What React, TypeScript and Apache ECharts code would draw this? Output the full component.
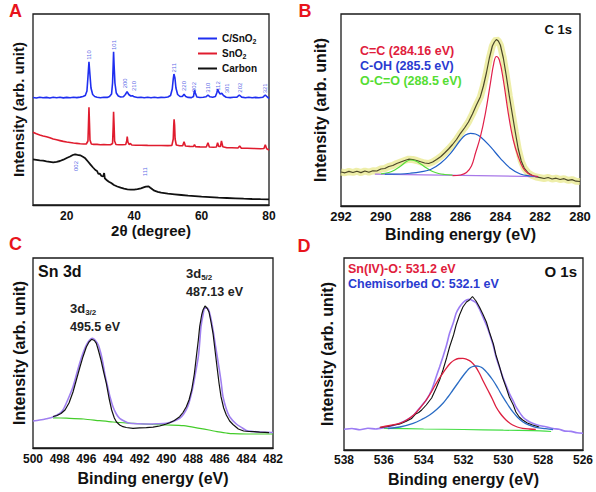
import React, { useEffect, useRef } from 'react';
import * as echarts from 'echarts';

const FONT = '"Liberation Sans", Arial, Helvetica, sans-serif';

// ---------- Panel A : XRD ----------
const xrdNames = ['C/SnO2', 'SnO2', 'Carbon'];
const xrdCSnO2: number[][] = [
  [10,107.5],[11,107],[12,107.8],[13,107.2],[14,107.6],[15,107],[16,107.7],[17,107.3],[18,107.8],[19,107.1],[20,107.6],[21,107.2],[22,107.8],[23,107.4],[24,107.9],[24.8,108.5],[25.5,109.5],[26,114],[26.3,128],[26.6,143.3],[26.9,130],[27.2,117],[27.7,110.5],[28.3,108.5],[29,107.8],[30,107.3],[31,107.8],[32,107.6],[32.7,108.5],[33.3,111],[33.6,122],[33.78,140],[33.9,153.3],[34.05,140],[34.3,122],[34.7,112],[35.3,109],[36,108],[36.8,108.2],[37.4,110.5],[37.9,113.3],[38.4,110.5],[39,109],[39.5,109.3],[40,108.2],[41,107.5],[42,107.8],[43,107.2],[44,107.7],[45,107.3],[46,107.8],[47,107.2],[48,107.6],[49,107.5],[50,108],[50.8,109.5],[51.3,116],[51.6,126],[51.8,131],[52.1,127],[52.4,117],[52.9,110.5],[53.6,108.5],[54.3,108.5],[54.8,110.7],[55.3,108.5],[56,107.6],[57,107.4],[57.6,108.5],[57.8,112.5],[57.95,114.7],[58.15,112],[58.6,108],[59.5,107.5],[60.5,107.7],[61.3,108.2],[61.9,110],[62.5,108.2],[63.3,107.8],[64.1,108.5],[64.5,112],[64.8,115.7],[65.1,113],[65.5,111],[66,111.7],[66.5,109.5],[67.3,107.8],[68.5,107.4],[69.5,107.7],[70.5,107.8],[71.2,110],[71.9,107.9],[73,107.3],[74,107.7],[75,107.2],[76,107.6],[77,107.3],[78.2,107.8],[78.9,110],[79.5,108],[80,106.7]
];
const xrdSnO2: number[][] = [
  [10,72.7],[11,71.2],[12,70],[13,69],[14,68.2],[15,67.2],[16,66],[17,65.2],[18,64.4],[19,63.6],[20,63],[21,62.5],[22,62],[23,61.6],[24,61.2],[25,61],[25.8,61],[26.3,64],[26.45,80],[26.6,97.7],[26.75,82],[26.9,65],[27.3,61],[28,60.6],[29,60.6],[30,60.3],[31,60.5],[32,60.2],[33,60.3],[33.6,61.5],[33.78,78],[33.9,93.3],[34.05,80],[34.2,64],[34.6,60.5],[35.5,60.2],[36.5,60.2],[37.5,60.5],[37.8,64],[37.95,68.3],[38.15,63],[38.5,60.5],[38.9,61.5],[39.3,60],[40.5,59.8],[42,59.8],[44,59.6],[46,59.5],[48,59.5],[50,59.4],[51.2,59.6],[51.6,66],[51.75,80],[51.85,85.7],[52.0,80],[52.15,66],[52.5,60],[53.5,59.2],[54.4,59.2],[54.8,63.3],[55.2,59],[56.5,58.6],[57.6,58.5],[57.9,60.5],[58.2,58.3],[59.5,58.1],[61.4,58],[61.9,62.3],[62.3,58],[63.5,57.7],[64.4,58],[64.75,62.3],[65.1,58.5],[65.6,58.5],[65.9,64],[66.3,58.2],[67.5,57.3],[69,57.2],[70.8,57],[71.3,59],[71.8,56.8],[73.5,56.7],[75.5,56.5],[77.5,56.3],[78.5,56.5],[78.9,60.3],[79.3,56.3],[80,55]
];
const xrdCarbon: number[][] = [
  [10,45.7],[11,45.2],[12,44.7],[13,44.4],[14,43.7],[15,43.2],[16,42.7],[17,43.2],[18,44],[19,45.3],[20,47],[21,48.5],[21.8,50],[22.5,50.7],[23.2,50.2],[24,49.7],[24.8,48.2],[25.5,46.7],[26.3,43.5],[27,40.7],[27.8,37.5],[28.5,35],[29,34],[29.4,31],[29.8,31.5],[30.3,29],[30.8,28.5],[31.1,32],[31.3,26.7],[32,24.5],[32.5,23.3],[33.2,22],[34,20],[35,18.5],[36,17.3],[37,16.3],[38,15.7],[39,15.3],[40,15.3],[41,15.8],[42,16.7],[43,17.8],[43.5,18.3],[44.3,18.6],[44.8,17.3],[45.5,15.5],[46,14.3],[47,13.2],[48,12.3],[50,11.4],[52,10.7],[54,10],[56,9.3],[58,8.8],[60,8.3],[62.5,7.8],[65,7.3],[67.5,7],[70,6.7],[72.5,6.3],[75,6],[77.5,5.8],[80,5.7]
];
const xrdPeakLabels: (number | string)[][] = [
  [26.6,150,'110'],[33.9,160,'101'],[37.4,121.7,'200'],[40.0,119,'210'],[51.8,137.3,'211'],[54.8,119,'220'],[57.9,118,'002'],[62.0,117.3,'310'],[64.8,119,'112'],[67.4,116.7,'301'],[71.3,117.3,'202'],[78.8,116.7,'321'],
  [22.8,39,'002'],[43.2,33.3,'111']
];

// ---------- Panel B : C 1s ----------
const c1sData: number[][] = [
  [292,34],[291.8,33.2],[291.6,34.6],[291.4,33.5],[291.2,34.8],[291.0,33.4],[290.8,35],[290.6,33.8],[290.4,35.2],[290.2,35],[290.0,37],[289.8,37.5],[289.6,39.5],[289.4,40.5],[289.2,42.5],[289.0,44],[288.8,45.5],[288.6,46.8],[288.4,46.5],[288.2,45.5],[288.0,44.2],[287.8,43],[287.6,42.5],[287.4,44],[287.2,46.5],[287.0,49.3],[286.8,53],[286.6,57],[286.4,61.5],[286.2,66.5],[286.0,72.7],[285.8,78],[285.6,84],[285.4,92],[285.2,101],[285.0,109.3],[284.85,120],[284.7,133],[284.55,148],[284.4,160],[284.3,164],[284.2,166.5],[284.1,165],[284.0,161],[283.85,148],[283.7,130],[283.55,110],[283.4,92],[283.25,74],[283.1,57],[282.95,45],[282.8,38],[282.6,33],[282.4,30.5],[282.2,29],[282.0,28.3],[281.8,27.5],[281.6,28.5],[281.4,27],[281.2,27.8],[281.0,26.5],[280.8,27.3],[280.6,25.6],[280.4,26.4],[280.2,24.8],[280.0,24.5]
];
const c1sCC: number[][] = [
  [286.4,30.3],[286.0,31],[285.7,33.5],[285.45,40],[285.25,52.7],[285.0,69.3],[284.75,92.7],[284.5,122.7],[284.33,142.7],[284.2,149.5],[284.05,146],[283.85,126],[283.6,92.7],[283.35,66],[283.1,49.3],[282.85,37.7],[282.6,32.5],[282.3,30],[282.1,29.5]
];
const c1sCOH: number[][] = [
  [289.8,31.8],[289,32],[288.5,32.8],[288,34.2],[287.5,36.5],[287.0,42.7],[286.5,52.7],[286.0,66],[285.75,71],[285.5,72.7],[285.25,72],[285.0,69.3],[284.5,59.3],[284.0,47.7],[283.5,37.7],[283.0,32],[282.5,30],[282.1,29.5]
];
const c1sOCO: number[][] = [
  [290.0,32.2],[289.6,33.5],[289.3,36],[289.0,40],[288.75,44],[288.5,46],[288.25,45],[288.0,42],[287.7,38],[287.4,34.5],[287.1,32.5],[286.8,31.5],[286.4,30.8]
];
const c1sBase: number[][] = [[290.3,31.8],[286,30.6],[282.1,29.3]];
const c1sLabels = ['C=C (284.16 eV)', 'C-OH (285.5 eV)', 'O-C=O (288.5 eV)'];

// ---------- Panel C : Sn 3d ----------
const sn3dData: number[][] = [
  [498.5,31.5],[498.2,32.5],[497.9,34.5],[497.6,38],[497.3,45],[497.0,56],[496.75,68],[496.5,80],[496.25,91.3],[496.0,101],[495.8,106],[495.6,108.7],[495.4,107.5],[495.25,104.7],[495.1,98],[494.9,88],[494.7,76],[494.5,64.7],[494.3,50],[494.1,38],[493.9,30],[493.75,26.3],[493.5,23],[493.25,21.3],[493.0,20.5],[492.5,19.7],[492.0,20.2],[491.5,20.3],[491.0,20.8],[490.5,22],[490.0,24],[489.75,25.3],[489.4,27.5],[489.0,31.3],[488.75,35.5],[488.5,41.3],[488.3,48],[488.1,58],[487.9,74],[487.75,91.3],[487.6,108],[487.5,121.3],[487.35,133],[487.25,138],[487.1,142],[486.95,140],[486.8,136],[486.65,126],[486.5,114.7],[486.35,98],[486.2,81.3],[486.05,65],[485.9,51.3],[485.7,40],[485.5,33],[485.25,27],[485.0,23.5],[484.6,19],[484.2,17],[483.8,16.5],[483.4,16.3],[483.0,15.8],[482.6,15.6],[482.3,15.4]
];
const sn3dFit: number[][] = [
  [500,27],[499.5,28],[499,29.3],[498.5,31],[498,34.5],[497.75,38],[497.4,48],[497.0,61.3],[496.75,73],[496.5,84.7],[496.25,95],[496.0,103],[495.75,108],[495.55,109.7],[495.35,108],[495.1,103],[494.9,94],[494.75,84.7],[494.6,73],[494.4,61.3],[494.2,50],[494.0,41.3],[493.75,34],[493.5,29.7],[493.1,26.5],[492.75,24.7],[492.0,24.2],[491.5,24],[490.75,24.2],[490.0,24.7],[489.5,26.5],[489.0,29.7],[488.7,34],[488.4,41.3],[488.2,50],[488.0,61.3],[487.8,76],[487.6,91.3],[487.5,105],[487.4,121.3],[487.25,133],[487.1,139.7],[486.9,139.7],[486.7,132],[486.5,118],[486.3,101],[486.1,84.7],[485.9,67],[485.75,51.3],[485.5,39],[485.25,31.3],[484.75,24],[484.3,20],[484,17.5],[483.5,16.5],[483,16],[482,15.5]
];
const sn3dBase: number[][] = [
  [498.5,30.2],[497.5,29.8],[496.2,29],[495,27.3],[494,26],[492.5,24.7],[491,23.5],[490,23],[488.7,22.3],[487.5,19.7],[486.8,18],[486.2,16.3],[485.5,15],[485,14.3],[484,14],[482,14]
];

// ---------- Panel D : O 1s ----------
const o1sFit: number[][] = [
  [538,20.7],[537.6,21.5],[537.2,20.3],[536.8,21.8],[536.4,21],[536.0,22.3],[535.6,24],[535.2,26.7],[534.85,30],[534.5,35],[534.2,42],[533.87,50],[533.6,60],[533.37,73.3],[533.2,83],[533.03,93.3],[532.85,105],[532.7,116.7],[532.5,128],[532.37,136.7],[532.2,143],[532.03,147.3],[531.85,150],[531.7,150.7],[531.55,149.5],[531.37,147.3],[531.2,141],[531.03,133.3],[530.85,125],[530.7,116.7],[530.5,104],[530.37,93.3],[530.2,83],[530.03,73.3],[529.85,64],[529.7,56.7],[529.5,49],[529.37,43.3],[529.2,38],[529.03,33.3],[528.8,29.5],[528.53,26.7],[528.2,24.5],[527.87,23.3],[527.5,21.5],[527.2,20.7],[526.9,18.9],[526.6,18.6],[526.3,17.2],[526,16.7]
];
const o1sData: number[][] = [
  [536.2,22.5],[535.8,23.5],[535.5,25],[535.2,26],[534.9,28.5],[534.6,31.5],[534.4,36],[534.25,37.5],[534.1,40],[533.87,45],[533.6,52],[533.37,62],[533.2,70],[533.03,80],[532.85,92],[532.7,103],[532.5,115],[532.37,125],[532.2,135],[532.03,143],[531.85,148],[531.7,150],[531.55,153.5],[531.45,151],[531.37,149],[531.2,143],[531.03,136],[530.85,128],[530.7,118],[530.5,106],[530.37,95],[530.2,84],[530.03,72],[529.85,62],[529.7,53],[529.5,45],[529.37,38],[529.2,33],[529.03,30],[528.8,27],[528.53,25],[528.2,23]
];
const o1sSnO: number[][] = [
  [536.2,22.7],[535.7,24.5],[535.2,26.7],[534.85,30],[534.5,35],[534.2,41.5],[533.87,50],[533.6,58.5],[533.37,66.7],[533.1,75],[532.87,81.7],[532.65,87],[532.45,90],[532.25,91.5],[532.03,91.7],[531.82,90.5],[531.62,88.3],[531.4,83.5],[531.2,76.7],[531.0,68.5],[530.78,60],[530.55,51],[530.37,43.3],[530.15,36.5],[529.95,31.7],[529.75,28],[529.53,25],[529.3,23],[529.03,21.7],[528.7,21],[528.37,20.7]
];
const o1sChem: number[][] = [
  [535.8,21.5],[535.2,23],[534.53,26.7],[534.1,30.5],[533.7,35],[533.35,40.5],[533.03,46.7],[532.78,53],[532.53,60],[532.28,67],[532.03,74],[531.85,78.5],[531.7,81.7],[531.53,83.5],[531.37,84],[531.2,83.5],[531.03,81.7],[530.78,76.5],[530.53,70],[530.28,62],[530.03,53.3],[529.78,45.5],[529.53,38.3],[529.28,32.5],[529.03,28.3],[528.7,24.8],[528.37,22.7],[527.87,21.3],[527.5,20.5]
];
const o1sBase: number[][] = [[536,21.7],[534,21],[532,20.5],[530,19.8],[528.5,19.3],[527.6,18.5]];
const o1sLabels = ['Sn(IV)-O: 531.2 eV', 'Chemisorbed O: 532.1 eV'];

const yName = 'Intensity (arb. unit)';
const xNameBE = 'Binding energy (eV)';

function line(data: number[][], idx: number, color: string, width: number, extra: any = {}) {
  return {
    type: 'line', xAxisIndex: idx, yAxisIndex: idx, data, symbol: 'none', showSymbol: false,
    lineStyle: { color, width }, itemStyle: { color }, silent: true, z: 3, ...extra,
  };
}

function text(x: number, y: number, t: string, fill: string, fontSize: number, rich?: any, align = 'left') {
  return {
    type: 'text', x, y, silent: true, z: 10,
    style: {
      text: t, fill, fontSize, fontWeight: 'bold', fontFamily: FONT,
      align, textAlign: align, verticalAlign: 'middle', textVerticalAlign: 'middle', rich,
    },
  };
}

function buildOption() {
  const grids = [
    { left: 33, top: 14, width: 236, height: 191 },
    { left: 341, top: 14, width: 239, height: 192 },
    { left: 33, top: 258, width: 240, height: 190 },
    { left: 344, top: 258, width: 240, height: 192 },
  ].map((g) => ({ ...g, show: true, borderColor: '#1a1a1a', borderWidth: 1.3, backgroundColor: 'transparent' }));

  const xBase = (i: number, min: number, max: number, inverse: boolean, labelSize: number, margin: number, name: string, nameSize: number, nameGap: number) => ({
    type: 'value', gridIndex: i, min, max, interval: i === 0 ? 10 : 2, inverse,
    axisLine: { show: true, lineStyle: { color: '#1a1a1a', width: 1.3 } },
    axisTick: { show: false }, splitLine: { show: false },
    axisLabel: {
      show: true, color: '#111', fontSize: labelSize, fontWeight: 'bold', fontFamily: FONT, margin,
      showMinLabel: true, showMaxLabel: true, hideOverlap: false,
      formatter: i === 0 ? (v: number) => (v % 20 === 0 ? String(v) : '') : (v: number) => String(v),
    },
    name, nameLocation: 'middle', nameGap,
    nameTextStyle: { color: '#111', fontSize: nameSize, fontWeight: 'bold', fontFamily: FONT },
  });
  const yBase = (i: number, max: number, nameSize: number, nameGap: number) => ({
    type: 'value', gridIndex: i, min: 0, max,
    axisLine: { show: false }, axisTick: { show: false }, axisLabel: { show: false }, splitLine: { show: false },
    name: yName, nameLocation: 'middle', nameGap,
    nameTextStyle: { color: '#111', fontSize: nameSize, fontWeight: 'bold', fontFamily: FONT },
  });

  const subRich = {
    n: { fontSize: 13, fontWeight: 'bold', fontFamily: FONT, lineHeight: 16, fill: '#222', color: '#222' },
    s: { fontSize: 8, fontWeight: 'bold', fontFamily: FONT, lineHeight: 9, verticalAlign: 'bottom', fill: '#222', color: '#222' },
  };

  return {
    animation: false,
    backgroundColor: '#fff',
    grid: grids,
    xAxis: [
      xBase(0, 10, 80, false, 12, 5, '2θ (degree)', 15, 17),
      xBase(1, 280, 292, true, 13, 4, xNameBE, 16, 20),
      xBase(2, 482, 500, true, 12, 5, xNameBE, 16, 22),
      xBase(3, 526, 538, true, 12, 4, xNameBE, 16, 21),
    ],
    yAxis: [yBase(0, 191, 15, 7), yBase(1, 192, 16, 13), yBase(2, 190, 16, 6), yBase(3, 192, 16, 9)],
    legend: {
      data: xrdNames, orient: 'vertical', left: 193, top: 27, icon: 'rect', itemWidth: 19, itemHeight: 2, itemGap: 2,
      formatter: (n: string) => n.replace('O2', 'O{s|2}'),
      textStyle: {
        color: '#111', fontSize: 10, fontWeight: 'bold', fontFamily: FONT, lineHeight: 13,
        rich: { s: { fontSize: 7, fontWeight: 'bold', fontFamily: FONT, lineHeight: 8, verticalAlign: 'bottom', color: '#111' } },
      },
      selectedMode: false,
    },
    series: [
      line(xrdCSnO2, 0, '#1f2ff0', 1.6, { name: xrdNames[0] }),
      line(xrdSnO2, 0, '#e01c2e', 1.6, { name: xrdNames[1] }),
      line(xrdCarbon, 0, '#111111', 1.8, { name: xrdNames[2] }),
      {
        type: 'scatter', xAxisIndex: 0, yAxisIndex: 0, data: xrdPeakLabels, symbolSize: 1, silent: true,
        itemStyle: { color: 'rgba(0,0,0,0)' },
        label: {
          show: true, position: 'inside', rotate: 90, fontSize: 6, color: '#3040e0', fontFamily: FONT,
          formatter: (p: any) => p.data[2],
        },
      },
      // B
      line(c1sData, 1, 'rgba(232,232,140,0.75)', 7, { z: 2 }),
      line(c1sData, 1, '#4a4628', 1.2),
      line(c1sBase, 1, '#a878e8', 1.2, { smooth: 0.3 }),
      line(c1sOCO, 1, '#55dd3a', 1.2, { smooth: 0.4 }),
      line(c1sCOH, 1, '#2060c8', 1.2, { smooth: 0.4 }),
      line(c1sCC, 1, '#e0204a', 1.2, { smooth: 0.4 }),
      // C
      line(sn3dBase, 2, '#44cc2a', 1.2, { smooth: 0.3 }),
      line(sn3dFit, 2, '#a080f0', 1.6, { smooth: 0.3 }),
      line(sn3dData, 2, '#111111', 1.2),
      // D
      line(o1sBase, 3, '#44dd44', 1.2, { smooth: 0.3 }),
      line(o1sFit, 3, '#9c7cf4', 1.6, { smooth: 0.2 }),
      line(o1sData, 3, '#111111', 1.1),
      line(o1sSnO, 3, '#dd1f3f', 1.3, { smooth: 0.4 }),
      line(o1sChem, 3, '#2a6cc4', 1.3, { smooth: 0.4 }),
    ],
    graphic: [
      text(9, 11, 'A', '#e8141c', 18),
      text(305, 11, 'B', '#e8141c', 18, undefined, 'center'),
      text(9, 244, 'C', '#e8141c', 18),
      text(304, 246, 'D', '#e8141c', 18, undefined, 'center'),
      // B texts
      text(572, 29, 'C 1s', '#111', 13, undefined, 'right'),
      text(360, 51, c1sLabels[0], '#e0203c', 12.5),
      text(360, 66, c1sLabels[1], '#2a3bd0', 12.5),
      text(360, 81, c1sLabels[2], '#55dd33', 12.5),
      // C texts
      text(38, 271, 'Sn 3d', '#111', 16),
      text(70, 308, '{n|3d}{s|3/2}', '#222', 13, subRich),
      text(70, 327, '495.5 eV', '#222', 12.5),
      text(186, 273, '{n|3d}{s|5/2}', '#222', 13, subRich),
      text(186, 292, '487.13 eV', '#222', 12.5),
      // D texts
      text(348, 268.5, o1sLabels[0], '#e0203c', 12.5),
      text(348, 284, o1sLabels[1], '#2a3bd0', 12.5),
      text(577, 271.5, 'O 1s', '#111', 15, undefined, 'right'),
    ],
  };
}

export default function App() {
  const ref = useRef<HTMLDivElement>(null);
  useEffect(() => {
    const chart = echarts.init(ref.current!, null, { renderer: 'svg' });
    chart.setOption(buildOption() as any);
    return () => chart.dispose();
  }, []);
  return (
    <div
      ref={ref}
      style={{ position: 'fixed', left: 0, top: 0, width: 596, height: 492, background: '#fff' }}
    />
  );
}
